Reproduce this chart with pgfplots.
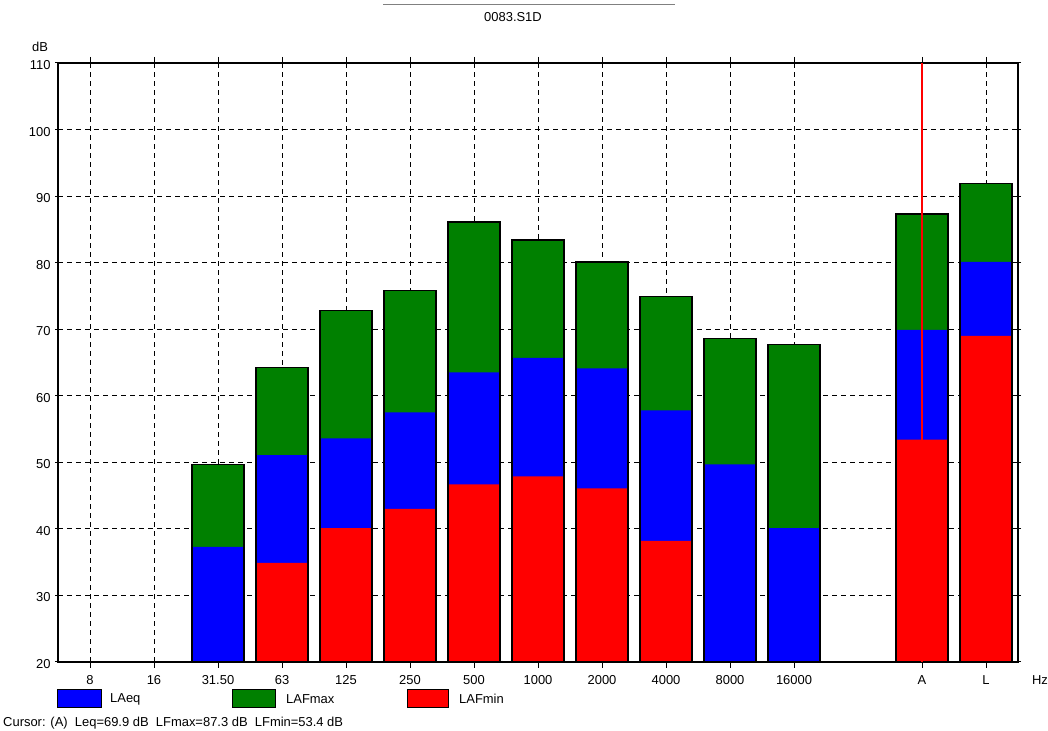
\documentclass[border=0pt]{standalone}
\usepackage{pgfplots}
\pgfplotsset{compat=1.18}
\usepackage{fontspec}
\setmainfont{Liberation Sans}
\definecolor{cblue}{RGB}{0,0,255}
\definecolor{cgreen}{RGB}{0,128,0}
\definecolor{cred}{RGB}{255,0,0}
\begin{document}
\fontsize{13}{15}\selectfont
\begin{tikzpicture}[x=1bp,y=1bp]
\path[use as bounding box] (-58,-69) rectangle (990,662);
\begin{axis}[at={(0,0)}, anchor=south west, scale only axis,
  width=960bp, height=599bp,
  xmin=-0.5, xmax=14.5, ymin=20, ymax=110,
  ytick={20,30,...,110},
  xtick={0,1,2,3,4,5,6,7,8,9,10,11,13,14},
  xticklabels={8,16,31.50,63,125,250,500,1000,2000,4000,8000,16000,A,L},
  grid=major,
  major grid style={black, line width=1bp, dash pattern=on 5bp off 4bp},
  axis line style={black, line width=1.3bp},
  tick style={black, line width=1bp},
  major tick length=6bp, tick align=center,
  xticklabel style={yshift=-3bp},
  yticklabel style={yshift=-2bp},
  ticklabel style={font=\fontsize{13}{15}\selectfont},
  /pgf/number format/assume math mode=true,
  ybar, bar width=52bp,
]
% LAFmax
\addplot[bar shift=0pt, fill=cgreen, draw=none] coordinates {
 (2,49.7) (3,64.3) (4,72.8) (5,75.8) (6,86.1) (7,83.4) (8,80.1) (9,74.9) (10,68.6) (11,67.7) (13,87.3) (14,91.9)};
% LAeq
\addplot[bar shift=0pt, fill=cblue, draw=none] coordinates {
 (2,37.3) (3,51.1) (4,53.6) (5,57.5) (6,63.5) (7,65.7) (8,64.1) (9,57.8) (10,49.7) (11,40.1) (13,69.9) (14,80.1)};
% LAFmin
\addplot[bar shift=0pt, fill=cred, draw=none] coordinates {
 (3,34.9) (4,40.1) (5,43.0) (6,46.7) (7,47.9) (8,46.1) (9,38.2) (13,53.4) (14,69.0)};
% outlines
\addplot[bar shift=0pt, fill=none, draw=black, line width=1.3bp] coordinates {
 (2,49.7) (3,64.3) (4,72.8) (5,75.8) (6,86.1) (7,83.4) (8,80.1) (9,74.9) (10,68.6) (11,67.7) (13,87.3) (14,91.9)};
% cursor
\addplot[sharp plot, no marks, draw=cred, line width=1.5bp] coordinates {(13,20) (13,110)};
\end{axis}
% title
\draw[gray, line width=1bp] (325,657) -- (617,657);
\node[anchor=center] at (455,645) {0083.S1D};
\node[anchor=center] at (-18,615) {dB};
\node[anchor=center] at (982,-18) {Hz};
% legend
\draw[black, line width=1bp, fill=cblue] (0,-28) rectangle (43,-46);
\node[anchor=west, inner sep=0pt] at (52,-37) {LAeq};
\draw[black, line width=1bp, fill=cgreen] (174,-28) rectangle (217,-46);
\node[anchor=west, inner sep=0pt] at (228,-37) {LAFmax};
\draw[black, line width=1bp, fill=cred] (349,-28) rectangle (390,-46);
\node[anchor=west, inner sep=0pt] at (401,-37) {LAFmin};
\node[anchor=west, inner sep=0pt] at (-55,-61) {Cursor: (A)\ \ Leq=69.9 dB\ \ LFmax=87.3 dB\ \ LFmin=53.4 dB};
\end{tikzpicture}
\end{document}
